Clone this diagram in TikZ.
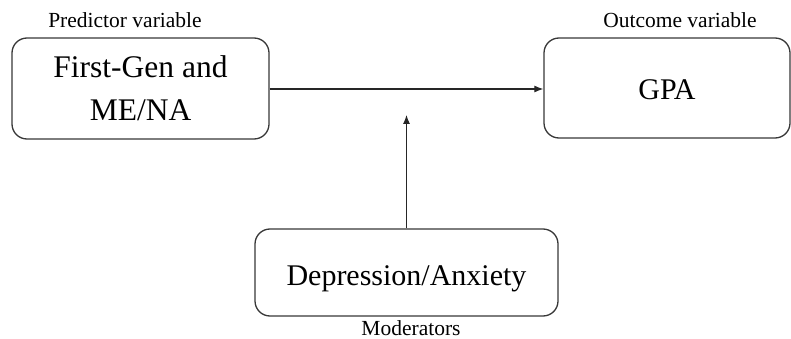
\documentclass[tikz,border=0pt]{standalone}
\usepackage{fontspec}
\setmainfont{Liberation Serif}
\usetikzlibrary{arrows.meta}
\begin{document}
\begin{tikzpicture}[x=1pt,y=1pt,
  varbox/.style={draw=black!78, line width=1.3pt, rounded corners=15pt, align=center, inner sep=0pt,
     font=\fontsize{30}{43}\selectfont},
  smalllabel/.style={font=\fontsize{21.5}{25}\selectfont, inner sep=0pt},
  conn/.style={draw=black!85, line width=1.1pt, -{Latex[length=9pt,width=7pt]}}]
\useasboundingbox (0,0) rectangle (791,-339);
\node[varbox, font=\fontsize{31.5}{43}\selectfont, minimum width=257pt, minimum height=101pt] (pred) at (140.5,-88.5) {First-Gen and\\ME/NA};
\node[varbox, text height=24pt, text depth=0pt, minimum width=246pt, minimum height=100pt] (gpa) at (667,-88) {GPA};
\node[varbox, text height=25pt, text depth=0pt, minimum width=303pt, minimum height=87pt] (dep) at (406.5,-272.5) {Depression/Anxiety};
\node[smalllabel] (predlab) at (125,-20) {Predictor variable};
\node[smalllabel] (outlab) at (680,-20) {Outcome variable};
\node[smalllabel] (modlab) at (411,-328) {Moderators};
\coordinate (modtip) at (406.5,-115);
\draw[conn] (pred.east |- 0,-89) -- (gpa.west |- 0,-89);
\draw[conn] (dep.north) -- (modtip);
\end{tikzpicture}
\end{document}
